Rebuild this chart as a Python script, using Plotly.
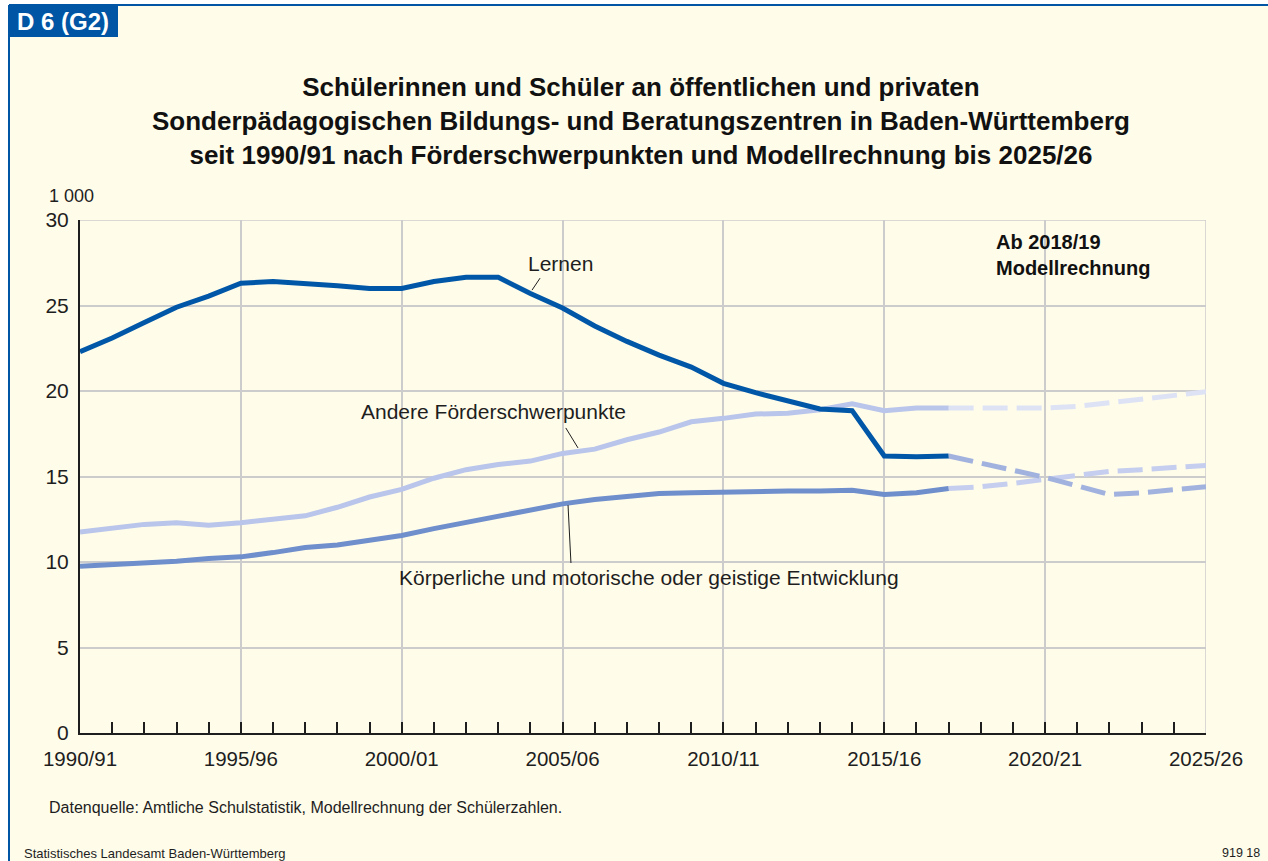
import plotly.graph_objects as go

# School years by starting year (1990 = 1990/91)
years = list(range(1990, 2018))
proj_years = list(range(2017, 2026))

# Pupils in thousands
lernen = [22.3, 23.1, 24.0, 24.9, 25.55, 26.3, 26.4, 26.3, 26.15, 26.0,
          26.0, 26.4, 26.65, 26.65, 25.7, 24.85, 23.8, 22.9, 22.1, 21.4,
          20.45, 19.9, 19.4, 18.95, 18.85, 16.2, 16.15, 16.2]
andere = [11.75, 12.0, 12.2, 12.3, 12.15, 12.3, 12.5, 12.7, 13.2, 13.8,
          14.25, 14.9, 15.4, 15.7, 15.9, 16.35, 16.6, 17.15, 17.6, 18.2,
          18.4, 18.65, 18.7, 18.9, 19.25, 18.85, 19.0, 19.0]
koerper = [9.75, 9.85, 9.9, 10.05, 10.2, 10.3, 10.55, 10.85, 11.0, 11.25,
           11.55, 11.95, 12.3, 12.65, 13.0, 13.4, 13.65, 13.85, 14.0, 14.05,
           14.1, 14.1, 14.15, 14.15, 14.2, 13.95, 14.05, 14.3]

# Model projection 2017/18 - 2025/26
lernen_proj = [16.2, 15.8, 15.35, 14.95, 14.45, 13.95, 14.05, 14.2, 14.4]
andere_proj = [19.0, 19.0, 19.0, 19.0, 19.1, 19.3, 19.5, 19.75, 19.95]
koerper_proj = [14.3, 14.4, 14.6, 14.85, 15.1, 15.3, 15.4, 15.55, 15.65]

tick_years = list(range(1990, 2026, 5))
tick_text = [f"{y}/{str(y + 1)[-2:]}" for y in tick_years]
y_ticks = [0, 5, 10, 15, 20, 25, 30]

title_lines = [
    "Schülerinnen und Schüler an öffentlichen und privaten",
    "Sonderpädagogischen Bildungs- und Beratungszentren in Baden-Württemberg",
    "seit 1990/91 nach Förderschwerpunkten und Modellrechnung bis 2025/26",
]

FONT = "Liberation Sans, Arial, sans-serif"
CREAM = "#fffcea"
BLUE = "#0055a4"
INK = "#1e1e1e"

fig = go.Figure()

# projection (dashed) first so the solid lines sit above
fig.add_trace(go.Scatter(x=proj_years, y=andere_proj, mode="lines",
                         line=dict(color="#dde3f5", width=5, dash="25px,9px")))
fig.add_trace(go.Scatter(x=proj_years, y=koerper_proj, mode="lines",
                         line=dict(color="#c5ceee", width=5, dash="25px,9px")))
fig.add_trace(go.Scatter(x=proj_years, y=lernen_proj, mode="lines",
                         line=dict(color="#a2b2de", width=5, dash="25px,9px")))

fig.add_trace(go.Scatter(x=years, y=andere, mode="lines",
                         line=dict(color="#b9c5ea", width=5)))
fig.add_trace(go.Scatter(x=years, y=koerper, mode="lines",
                         line=dict(color="#6f8ecc", width=5)))
fig.add_trace(go.Scatter(x=years, y=lernen, mode="lines",
                         line=dict(color="#0057a8", width=5)))


# helpers: page pixels -> paper coordinates
def px_x(p):
    return (p - 80) / 1126


def px_y(p):
    return (733 - p) / 513


shapes = [
    dict(type="rect", xref="paper", yref="paper", layer="below",
         x0=px_x(-5), x1=px_x(1275), y0=px_y(5), y1=px_y(-5),
         fillcolor="white", line=dict(width=0)),
    dict(type="rect", xref="paper", yref="paper", layer="below",
         x0=px_x(-5), x1=px_x(9), y0=px_y(870), y1=px_y(-5),
         fillcolor="white", line=dict(width=0)),
    dict(type="line", xref="paper", yref="paper",
         x0=px_x(9), x1=px_x(1275), y0=px_y(5), y1=px_y(5),
         line=dict(color=BLUE, width=2)),
    dict(type="line", xref="paper", yref="paper",
         x0=px_x(9), x1=px_x(9), y0=px_y(5), y1=px_y(870),
         line=dict(color=BLUE, width=2)),
    dict(type="rect", xref="paper", yref="paper",
         x0=px_x(9), x1=px_x(118), y0=px_y(37), y1=px_y(5),
         fillcolor=BLUE, line=dict(width=0)),
    # right and top border of the plot area
    dict(type="line", xref="x", yref="y", x0=2025, x1=2025, y0=0, y1=30,
         line=dict(color="#cccccc", width=1.5), layer="below"),
    dict(type="line", xref="x", yref="y", x0=1990, x1=2025, y0=30, y1=30,
         line=dict(color="#cccccc", width=1.5), layer="below"),
    # leader lines
    dict(type="line", xref="x", yref="y", x0=2004.3, y0=26.6, x1=2004.05, y1=25.9,
         line=dict(color=INK, width=1)),
    dict(type="line", xref="x", yref="y", x0=2005.1, y0=17.84, x1=2005.48, y1=16.67,
         line=dict(color=INK, width=1)),
    dict(type="line", xref="x", yref="y", x0=2005.17, y0=13.33, x1=2005.26, y1=9.94,
         line=dict(color=INK, width=1)),
]

annotations = [
    dict(text="<b>D 6 (G2)</b>", xref="paper", yref="paper",
         x=px_x(15), y=px_y(21), xanchor="left", yanchor="middle",
         showarrow=False, font=dict(family=FONT, size=24, color="white")),
    # three-line centred heading
    dict(text="<b>" + "<br>".join(title_lines) + "</b>",
         xref="paper", yref="paper", x=px_x(641), y=px_y(121),
         xanchor="center", yanchor="middle", align="center", showarrow=False,
         font=dict(family=FONT, size=26, color="#111111")),
    dict(text="1 000", xref="paper", yref="paper", x=px_x(47), y=px_y(196),
         xanchor="left", yanchor="middle", showarrow=False,
         font=dict(family=FONT, size=18, color=INK)),
    dict(text="Lernen", x=2004.95, y=27.43, showarrow=False,
         xanchor="center", yanchor="middle",
         font=dict(family=FONT, size=21, color=INK)),
    dict(text="Andere Förderschwerpunkte", x=2002.84, y=18.83, showarrow=False,
         xanchor="center", yanchor="middle",
         font=dict(family=FONT, size=21, color=INK)),
    dict(text="Körperliche und motorische oder geistige Entwicklung",
         x=2007.69, y=9.12, showarrow=False, xanchor="center", yanchor="middle",
         font=dict(family=FONT, size=21, color=INK)),
    dict(text="<b>Ab 2018/19<br>Modellrechnung</b>", xref="paper", yref="paper",
         x=px_x(994), y=px_y(255), showarrow=False, align="left",
         xanchor="left", yanchor="middle",
         font=dict(family=FONT, size=20, color="#111111")),
    dict(text="Datenquelle: Amtliche Schulstatistik, Modellrechnung der Schülerzahlen.",
         xref="paper", yref="paper", x=px_x(47), y=px_y(807),
         xanchor="left", yanchor="middle", showarrow=False,
         font=dict(family=FONT, size=16, color=INK)),
    dict(text="Statistisches Landesamt Baden-Württemberg",
         xref="paper", yref="paper", x=px_x(22), y=px_y(853),
         xanchor="left", yanchor="middle", showarrow=False,
         font=dict(family=FONT, size=13, color=INK)),
    dict(text="919 18", xref="paper", yref="paper", x=px_x(1262), y=px_y(853),
         xanchor="right", yanchor="middle", showarrow=False,
         font=dict(family=FONT, size=12.5, color=INK)),
]

fig.update_layout(
    width=1268, height=861,
    margin=dict(l=80, r=62, t=220, b=128),
    paper_bgcolor=CREAM, plot_bgcolor=CREAM,
    showlegend=False, hovermode=False,
    font=dict(family=FONT, size=20, color=INK),
    shapes=shapes, annotations=annotations,
    xaxis=dict(range=[1990, 2025], tickvals=tick_years, ticktext=tick_text,
               ticks="inside", ticklen=11, tickcolor=INK, tickwidth=1.5,
               ticklabelstandoff=6,
               showgrid=True, gridcolor="#cccccc", gridwidth=1.5,
               showline=True, linecolor=INK, linewidth=2,
               zeroline=False, fixedrange=True,
               minor=dict(dtick=1, tick0=1990, ticks="inside", ticklen=11,
                          tickcolor=INK, tickwidth=1.5, showgrid=False),
               tickfont=dict(family=FONT, size=20.5, color=INK)),
    yaxis=dict(range=[0, 30], tickvals=y_ticks, ticks="",
               ticklabelstandoff=5,
               showgrid=True, gridcolor="#cccccc", gridwidth=1.5,
               showline=True, linecolor=INK, linewidth=2,
               zeroline=False, fixedrange=True,
               tickfont=dict(family=FONT, size=21, color=INK)),
)

fig.write_html("out.html")
